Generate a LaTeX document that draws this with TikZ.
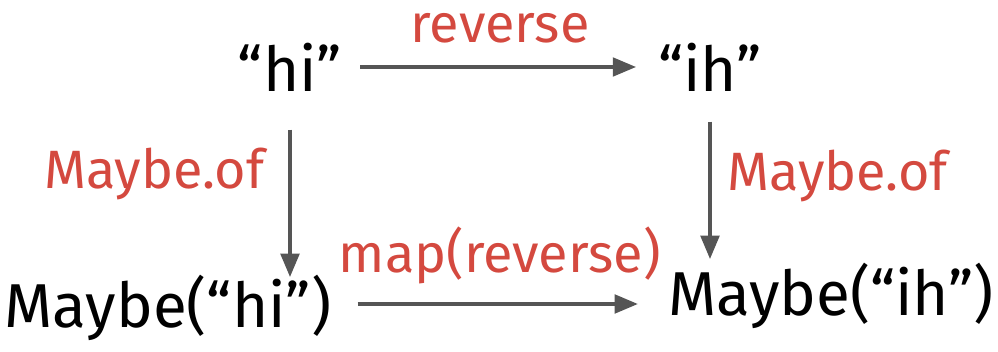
\documentclass[tikz,border=0pt]{standalone}
\usepackage{fontspec}
\setmainfont{Fira Sans}
\usepackage{tikz}
\usetikzlibrary{positioning,%
  arrows
}
\definecolor{arrowgray}{HTML}{555555}
\definecolor{labelred}{HTML}{D4493F}

\begin{document}
\begin{tikzpicture}[x=0.5pt,y=-0.5pt,
    obj/.style={inner sep=5pt, font=\fontsize{31}{36}\selectfont},
    fun/.style={text=labelred, inner sep=0pt, font=\fontsize{27}{30}\selectfont},
    mor/.style={draw=arrowgray, line width=1.7pt, -triangle 45}]
    \useasboundingbox (0,0) rectangle (998,352);

    % objects
    \node [obj] (hi) at (290,67) {“hi”};
    \node [obj] (ih) at (710,67) {“ih”};
    \node [obj] (mhi) at (168,308) {Maybe(“hi”)};
    \node [obj] (mih) at (831,296) {Maybe(“ih”)};

    % morphisms
    \draw [mor, shorten <=4pt, shorten >=6pt] (hi.east) -- (ih.west) node [fun, midway, above=11pt] (rev) {reverse};
    \draw [mor] ([yshift=-14pt]hi.south) -- ([yshift=-6pt]hi |- mhi.north) node [fun, pos=0.3, left=12pt] (ofl) {Maybe.of};
    \draw [mor] ([yshift=-10pt]ih.south) -- ([yshift=-3pt]ih |- mih.north) node [fun, pos=0.4, right=8pt] (ofr) {Maybe.of};
    \draw [mor, shorten <=8pt, shorten >=10pt] ([yshift=2pt]mhi.east) -- ([yshift=2pt]mhi.east -| mih.west) node [fun, midway, above=9pt] (maprev) {map(reverse)};
\end{tikzpicture}
\end{document}
